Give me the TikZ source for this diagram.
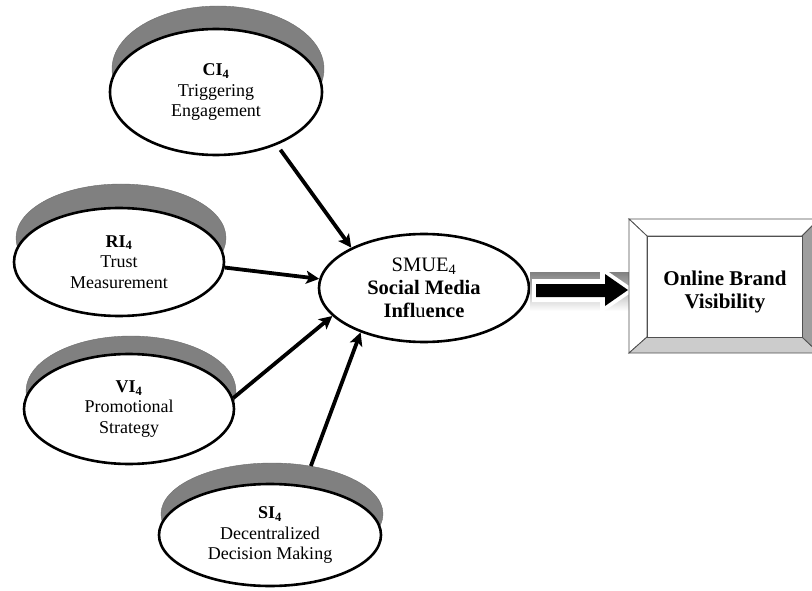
\documentclass[tikz,border=0pt]{standalone}
\usepackage{fontspec}
\setmainfont{Liberation Serif}
\usetikzlibrary{shapes.geometric,arrows.meta}
\definecolor{shade}{RGB}{128,128,128}
\definecolor{bevellight}{RGB}{204,204,204}
\definecolor{beveldark}{RGB}{158,158,158}
\definecolor{edgegray}{RGB}{80,80,80}

\begin{document}
\begin{tikzpicture}[x=1pt,y=-1pt,
  disc/.style={ellipse, draw=black, line width=2.6pt, fill=white, inner sep=0pt,
    align=center, font=\fontsize{18}{20.5}\selectfont},
  rim/.style={ellipse, fill=shade, draw=shade!85!black, line width=0.4pt, inner sep=0pt},
  link/.style={line width=3.8pt, -{Stealth[length=13pt,width=13pt,inset=3pt]}},
  bevel/.style={draw=edgegray, line width=0.8pt, line join=miter},
]
\useasboundingbox (0,0) rectangle (812,591);
\clip (0,0) rectangle (812,591);

% raised rims behind the factor ellipses
\node[rim, minimum width=212pt, minimum height=126pt] (ci-rim) at (218,69) {};
\node[rim, minimum width=210pt, minimum height=108pt] (ri-rim) at (121,238) {};
\node[rim, minimum width=210pt, minimum height=110pt] (vi-rim) at (131,391) {};
\node[rim, minimum width=222pt, minimum height=102pt] (si-rim) at (272,514) {};

% factor ellipses
\node[disc, minimum width=212pt, minimum height=126pt] (ci) at (216,92)
  {\textbf{CI\textsubscript{4}}\\Triggering\\Engagement};
\node[disc, minimum width=210pt, minimum height=108pt] (ri) at (119,262)
  {\textbf{RI\textsubscript{4}}\\Trust\\Measurement};
\node[disc, minimum width=210pt, minimum height=110pt] (vi) at (129,409)
  {\textbf{VI\textsubscript{4}}\\Promotional\\Strategy};
\node[disc, minimum width=222pt, minimum height=102pt] (si) at (270,535)
  {\textbf{SI\textsubscript{4}}\\Decentralized\\Decision Making};

% central construct
\node[disc, minimum width=210pt, minimum height=108pt, font=\fontsize{20.5}{23}\selectfont]
  (smue) at (424,288)
  {SMUE\textsubscript{4}\\\textbf{Social Media}\\{\bfseries Infl}u{\bfseries ence}};

% arrows into the central construct
\draw[link, shorten <=6pt] (ci.-41) -- (smue.151.6);
\draw[link] (ri.-3) -- (smue.175);
\draw[link] (vi.6) -- (smue.197);
\draw[link] (si-rim.51) -- (smue.215.6);

% block arrow towards the outcome box
\fill[shade] (530,272) rectangle (630,311);
\fill[white] (532,279) -- (600,279) -- (600,266) -- (635,290) -- (600,314)
  -- (600,302) -- (532,302) -- cycle;
\fill[black] (536,284) -- (605,284) -- (605,274) -- (628,290) -- (605,306)
  -- (605,297) -- (536,297) -- cycle;

% bevelled outcome box
\filldraw[bevel, fill=white] (629,219) -- (819,219) -- (802,236) -- (647,236) -- cycle;
\filldraw[bevel, fill=white] (629,219) -- (647,236) -- (647,337) -- (629,353) -- cycle;
\filldraw[bevel, fill=bevellight] (629,353) -- (647,337) -- (802,337) -- (819,353) -- cycle;
\filldraw[bevel, fill=beveldark] (819,219) -- (802,236) -- (802,337) -- (819,353) -- cycle;
\node[draw=edgegray, line width=0.8pt, fill=white, minimum width=155pt, minimum height=101pt,
  inner sep=0pt] (obv) at (724.5,286.5) {};
\node[font=\bfseries\fontsize{21}{23}\selectfont, align=center] (obv-text) at (725,292)
  {Online Brand\\Visibility};
\end{tikzpicture}
\end{document}
